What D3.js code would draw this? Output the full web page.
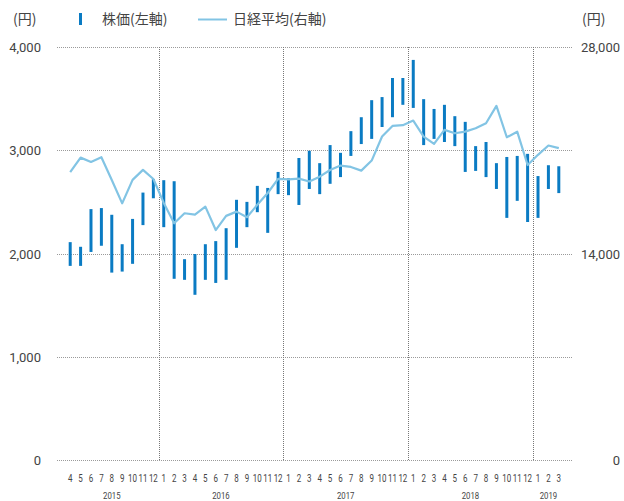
<!DOCTYPE html>
<html>
<head>
<meta charset="utf-8">
<script src="https://cdn.jsdelivr.net/npm/d3@7"></script>
<style>
  body { margin: 0; background: #fff; }
  text { font-family: Roboto, "Noto Sans CJK JP", sans-serif; fill: #444; }
  .jp { font-family: "Noto Sans CJK JP", sans-serif; }
</style>
</head>
<body>
<div id="chart"></div>
<script>

// months shown on the x axis, Apr 2015 - Mar 2019
var months = [4,5,6,7,8,9,10,11,12,
  1,2,3,4,5,6,7,8,9,10,11,12,
  1,2,3,4,5,6,7,8,9,10,11,12,
  1,2,3,4,5,6,7,8,9,10,11,12,
  1,2,3];
var years = [
  { label: "2015", from: 0, to: 8 },
  { label: "2016", from: 9, to: 20 },
  { label: "2017", from: 21, to: 32 },
  { label: "2018", from: 33, to: 44 },
  { label: "2019", from: 45, to: 47 }
];

// stock price monthly high / low (left axis, yen)
var priceHigh = [2110, 2065, 2430, 2440, 2375, 2090, 2335, 2590, 2720,
  2710, 2700, 1945, 1995, 2090, 2120, 2245, 2520, 2500, 2655, 2635, 2790,
  2730, 2925, 2995, 2875, 3050, 2975, 3185, 3320, 3485, 3515, 3700, 3700,
  3875, 3495, 3400, 3440, 3330, 3275, 3040, 3080, 2875, 2935, 2945, 2965,
  2750, 2855, 2845];
var priceLow = [1880, 1880, 2015, 2075, 1815, 1825, 1900, 2275, 2535,
  2255, 1755, 1745, 1600, 1745, 1715, 1745, 2055, 2255, 2400, 2200, 2575,
  2565, 2470, 2625, 2575, 2675, 2740, 2945, 3060, 3110, 3225, 3320, 3440,
  3410, 3050, 3110, 3080, 3040, 2790, 2800, 2740, 2625, 2345, 2510, 2305,
  2345, 2625, 2585];

// Nikkei average month-end (right axis, yen)
var nikkei = [19510, 20500, 20210, 20530, 18980, 17400, 18990, 19670, 19050,
  17430, 16050, 16730, 16640, 17180, 15590, 16550, 16840, 16460, 17300, 18100, 19060,
  19030, 19080, 18880, 19210, 19660, 19960, 19870, 19620, 20300, 21930, 22650, 22700,
  23010, 21930, 21430, 22380, 22150, 22260, 22490, 22830, 24010, 21880, 22260, 20000,
  20690, 21320, 21140];

var leftTicks = [0, 1000, 2000, 3000, 4000];
var rightTicks = [0, 14000, 28000];

var width = 624, height = 501;
var plot = { left: 57, right: 572, top: 47, bottom: 460 };

var svg = d3.select("#chart").append("svg")
  .attr("width", width)
  .attr("height", height);

var x = d3.scaleBand()
  .domain(d3.range(months.length))
  .range([65, 564]);

var yL = d3.scaleLinear().domain([0, 4000]).range([plot.bottom, plot.top]);
var yR = d3.scaleLinear().domain([0, 28000]).range([plot.bottom, plot.top]);

// horizontal grid
svg.append("g")
  .selectAll("line")
  .data(leftTicks).enter()
  .append("line")
  .attr("x1", plot.left).attr("x2", plot.right)
  .attr("y1", function(d){ return Math.round(yL(d)) + 0.5; })
  .attr("y2", function(d){ return Math.round(yL(d)) + 0.5; })
  .attr("stroke", "#9a9a9a")
  .attr("stroke-width", 1)
  .attr("stroke-dasharray", "1,1");

// year separators
var seps = years.slice(1).map(function(y){ return y.from; });
svg.append("g")
  .selectAll("line")
  .data(seps).enter()
  .append("line")
  .attr("x1", function(d){ return Math.round(x(d)) + 0.5; })
  .attr("x2", function(d){ return Math.round(x(d)) + 0.5; })
  .attr("y1", plot.top).attr("y2", plot.bottom)
  .attr("stroke", "#777")
  .attr("stroke-width", 1)
  .attr("stroke-dasharray", "1,1");

// left axis labels
var yAxisL = d3.axisLeft(yL).tickValues(leftTicks).tickSize(0).tickPadding(0)
  .tickFormat(d3.format(","));
var gL = svg.append("g").attr("transform", "translate(41,0)").call(yAxisL);
gL.select(".domain").remove();
gL.selectAll("text").style("font-size", "13px").style("fill", "#444")
  .style("font-family", "Roboto, sans-serif").attr("dy", "0.35em");

// right axis labels
var yAxisR = d3.axisRight(yR).tickValues(rightTicks).tickSize(0).tickPadding(0)
  .tickFormat(d3.format(","));
var gR = svg.append("g").attr("transform", "translate(620,0)").call(yAxisR);
gR.select(".domain").remove();
gR.selectAll("text").style("font-size", "13px").style("fill", "#444")
  .style("font-family", "Roboto, sans-serif").attr("text-anchor", "end").attr("dy", "0.35em");

// stock price high-low bars
svg.append("g")
  .selectAll("line")
  .data(months).enter()
  .append("line")
  .attr("x1", function(d, i){ return x(i) + x.bandwidth() / 2; })
  .attr("x2", function(d, i){ return x(i) + x.bandwidth() / 2; })
  .attr("y1", function(d, i){ return yL(priceHigh[i]); })
  .attr("y2", function(d, i){ return yL(priceLow[i]); })
  .attr("stroke", "#0a7bc3")
  .attr("stroke-width", 3);

// nikkei line
var line = d3.line()
  .x(function(d, i){ return x(i) + x.bandwidth() / 2; })
  .y(function(d){ return yR(d); });

svg.append("path")
  .datum(nikkei)
  .attr("d", line)
  .attr("fill", "none")
  .attr("stroke", "#82c4e4")
  .attr("stroke-width", 2.2)
  .attr("stroke-linejoin", "round");

// month labels (narrow font look)
svg.append("g")
  .selectAll("text")
  .data(months).enter()
  .append("text")
  .attr("transform", function(d, i){
    return "translate(" + (x(i) + x.bandwidth() / 2) + ",482) scale(0.76,1)";
  })
  .attr("text-anchor", "middle")
  .style("font-size", "10.5px")
  .text(function(d){ return d; });

// year labels
svg.append("g")
  .selectAll("text")
  .data(years).enter()
  .append("text")
  .attr("transform", function(d){
    return "translate(" + ((x(d.from) + x(d.to) + x.bandwidth()) / 2) + ",499) scale(0.82,1)";
  })
  .attr("text-anchor", "middle")
  .style("font-size", "9.5px")
  .text(function(d){ return d.label; });

// unit labels
svg.append("text").attr("class", "jp").attr("x", 13).attr("y", 24)
  .style("font-size", "14px").text("(円)");
svg.append("text").attr("class", "jp").attr("x", 582).attr("y", 24)
  .style("font-size", "14px").text("(円)");

// legend
svg.append("rect")
  .attr("x", 79).attr("y", 13).attr("width", 3).attr("height", 12)
  .attr("fill", "#0a7bc3");
svg.append("text").attr("class", "jp").attr("x", 102).attr("y", 24)
  .style("font-size", "14px").text("株価(左軸)");
svg.append("line")
  .attr("x1", 198).attr("x2", 227).attr("y1", 19.5).attr("y2", 19.5)
  .attr("stroke", "#82c4e4").attr("stroke-width", 2);
svg.append("text").attr("class", "jp").attr("x", 233).attr("y", 24)
  .style("font-size", "14px").text("日経平均(右軸)");

</script>
</body>
</html>
